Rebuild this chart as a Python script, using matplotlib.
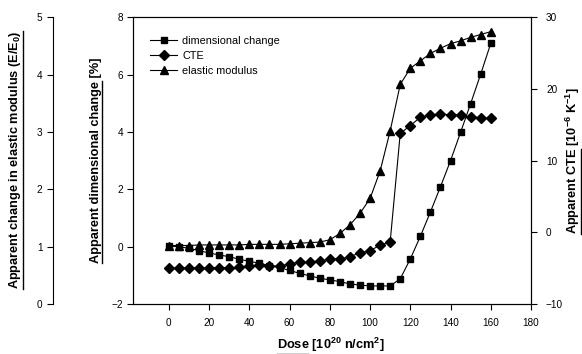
import matplotlib
matplotlib.use("Agg")
import matplotlib.pyplot as plt
from matplotlib.lines import Line2D

plt.rcParams['font.family'] = ['Liberation Sans', 'DejaVu Sans']
plt.rcParams['mathtext.fontset'] = 'custom'
plt.rcParams['mathtext.rm'] = 'Liberation Sans'
plt.rcParams['mathtext.bf'] = 'Liberation Sans:bold'
plt.rcParams['mathtext.it'] = 'Liberation Sans:italic'

dose = list(range(0, 161, 5))
dim_change = [0.02, 0.0, -0.06, -0.14, -0.22, -0.29, -0.35, -0.44, -0.51, -0.58, -0.66,
              -0.73, -0.83, -0.93, -1.02, -1.10, -1.16, -1.22, -1.30, -1.34, -1.37, -1.37,
              -1.37, -1.12, -0.43, 0.36, 1.21, 2.09, 3.00, 3.99, 4.99, 6.02, 7.09]
cte = [-5.0, -5.0, -5.0, -4.98, -4.97, -4.96, -4.95, -4.9, -4.7, -4.6, -4.65, -4.75,
       -4.35, -4.2, -4.15, -4.0, -3.75, -3.75, -3.4, -2.85, -2.55, -1.8, -1.3,
       13.8, 14.9, 16.05, 16.4, 16.5, 16.4, 16.3, 16.1, 16.0, 15.9]
elastic = [1.02, 1.02, 1.02, 1.03, 1.03, 1.03, 1.03, 1.03, 1.04, 1.04, 1.04, 1.04,
           1.05, 1.06, 1.07, 1.08, 1.12, 1.23, 1.38, 1.58, 1.84, 2.32, 3.02, 3.83,
           4.11, 4.24, 4.37, 4.46, 4.54, 4.59, 4.65, 4.70, 4.75]

xticks = [0, 20, 40, 60, 80, 100, 120, 140, 160, 180]
dim_ticks = [-2, 0, 2, 4, 6, 8]
cte_ticks = [-10, 0, 10, 20, 30]
e_ticks = [0, 1, 2, 3, 4, 5]

W, H = 582, 354
fig = plt.figure(figsize=(W / 100, H / 100), dpi=100)
L, R, T, B = 132.7, 531, 17.3, 304
ax = fig.add_axes([L / W, 1 - B / H, (R - L) / W, (B - T) / H])
ax_cte = ax.twinx()
ax_e = ax.twinx()

fs = 7.2
lw = 0.8
l1, = ax.plot(dose, dim_change, color='black', lw=lw, marker='s', ms=5.0, label='dimensional change')
l2, = ax_cte.plot(dose, cte, color='black', lw=lw, marker='D', ms=4.8, label='CTE')
l3, = ax_e.plot(dose, elastic, color='black', lw=lw, marker='^', ms=5.6, label='elastic modulus')

ax.set_xlim(-18, 180)
ax.set_xticks(xticks)
ax.set_ylim(-2, 8)
ax.set_yticks(dim_ticks)
ax_cte.set_ylim(-10, 30)
ax_cte.set_yticks(cte_ticks)
ax_e.set_ylim(0, 5)
ax_e.set_yticks(e_ticks)

for a in (ax, ax_cte, ax_e):
    a.tick_params(labelsize=fs, length=4.3, width=0.8, direction='out', colors='black')
    for s in a.spines.values():
        s.set_linewidth(0.8)

ax.tick_params(axis='x', pad=6)
ax.tick_params(axis='y', pad=2.5)
ax_cte.tick_params(axis='y', pad=6.5)

ax_e.spines['left'].set_visible(True)
ax_e.spines['left'].set_position(('axes', (52.7 - L) / (R - L)))
ax_e.spines['right'].set_visible(False)
ax_e.spines['top'].set_visible(False)
ax_e.spines['bottom'].set_visible(False)
ax_e.yaxis.set_ticks_position('left')
ax_e.yaxis.set_label_position('left')
ax_e.tick_params(axis='y', pad=3)

leg = ax_e.legend(handles=[l1, l2, l3], loc='upper left', frameon=False,
                  bbox_to_anchor=(150 / W, 1 - 36 / H), bbox_transform=fig.transFigure,
                  borderpad=0, borderaxespad=0, handlelength=2.5, handletextpad=0.5,
                  labelspacing=0.45, fontsize=7.8)

# Labels with underlined prefixes
lab_fs = 9.2
labels = [
    (15, 160, 90, 'Apparent change in elastic modulus (E/E$_{\\mathbf{0}}$)', None),
    (96, 160, 90, 'Apparent dimensional change [%]', 'Apparent dimensional change'),
    (572.5, 161, 90, 'Apparent CTE [10$^{\\mathbf{-6}}$ K$^{\\mathbf{-1}}$]', 'Apparent CTE'),
    (331, 345, 0, 'Dose [10$^{\\mathbf{20}}$ n/cm$^{\\mathbf{2}}$]', 'Dose'),
]
texts = []
for (px, py, rot, s, pre) in labels:
    t = fig.text(px / W, 1 - py / H, s, rotation=rot, ha='center', va='center',
                 fontsize=lab_fs, fontweight='bold')
    texts.append((px, py, rot, s, pre))

fig.canvas.draw()
renderer = fig.canvas.get_renderer()


def measure(s):
    tmp = fig.text(0.5, 0.5, s, fontsize=lab_fs, fontweight='bold')
    bb = tmp.get_window_extent(renderer)
    tmp.remove()
    return bb.width, bb.height


for px, py, rot, s, pre in texts:
    fw, fh = measure(s)
    pw = fw if pre is None else measure(pre)[0]
    off = fh / 2.0 - 0.5
    if rot == 90:
        # text reads bottom to top; underline lies on the right side
        y_start = py + fw / 2.0
        y_end = y_start - pw
        xu = px + off
        xs = [xu / W, xu / W]
        ys = [1 - y_start / H, 1 - y_end / H]
    else:
        x_start = px - fw / 2.0
        yu = py + off
        xs = [x_start / W, (x_start + pw) / W]
        ys = [1 - yu / H, 1 - yu / H]
    fig.add_artist(Line2D(xs, ys, transform=fig.transFigure, color='black', lw=1.0))

fig.savefig('out.png', dpi=100)
